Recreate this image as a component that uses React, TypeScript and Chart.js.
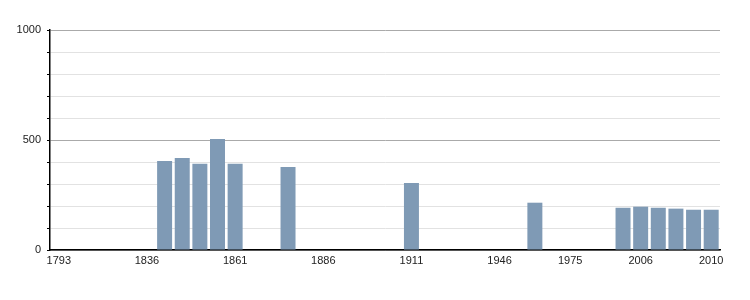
import React, { useEffect, useRef } from "react";
import { Chart, registerables } from "chart.js";

Chart.register(...registerables);

const years = [
  "1793", "1800", "1806", "1821", "1831", "1836", "1841", "1846", "1851", "1856",
  "1861", "1866", "1872", "1876", "1881", "1886", "1891", "1896", "1901", "1906",
  "1911", "1921", "1926", "1931", "1936", "1946", "1954", "1962", "1968", "1975",
  "1982", "1990", "1999", "2006", "2007", "2008", "2009", "2010",
];

const population: (number | null)[] = [
  null, null, null, null, null, null, 404, 418, 392, 505,
  392, null, null, 377, null, null, null, null, null, null,
  305, null, null, null, null, null, null, 215, null, null,
  null, null, 192, 197, 192, 188, 183, 183,
];

const shownYearLabels = ["1793", "1836", "1861", "1886", "1911", "1946", "1975", "2006", "2010"];
const yLabelValues = [0, 500, 1000];

export default function App() {
  const ref = useRef<HTMLCanvasElement | null>(null);
  useEffect(() => {
    if (!ref.current) return;
    const chart = new Chart(ref.current, {
      type: "bar",
      data: {
        labels: years,
        datasets: [
          {
            data: population,
            backgroundColor: "#7f9ab5",
            borderWidth: 0,
            categoryPercentage: 1,
            barPercentage: 0.85,
          },
        ],
      },
      options: {
        animation: false,
        responsive: false,
        maintainAspectRatio: false,
        layout: { padding: { top: 30, right: 30, bottom: 0, left: 0 } },
        plugins: { legend: { display: false }, tooltip: { enabled: false } },
        scales: {
          x: {
            type: "category",
            offset: true,
            grid: { display: false, drawTicks: false },
            border: { display: true, color: "#000", width: 1.5 },
            ticks: {
              autoSkip: false,
              maxRotation: 0,
              padding: 4,
              color: "#222",
              font: { family: "Liberation Sans, Arial, sans-serif", size: 11 },
              callback: (_v: any, i: number) =>
                shownYearLabels.includes(years[i]) ? years[i] : "",
            },
            afterFit: (s: any) => {
              s.height = 50;
            },
          },
          y: {
            min: 0,
            max: 1000,
            border: { display: true, color: "#000", width: 1.5 },
            grid: {
              color: (c: any) =>
                c.tick && c.tick.value % 500 === 0 ? "#aaaaaa" : "#e2e2e2",
              tickColor: "#000",
              tickLength: 3,
              drawTicks: true,
            },
            ticks: {
              stepSize: 100,
              autoSkip: false,
              padding: 6,
              color: "#222",
              font: { family: "Liberation Sans, Arial, sans-serif", size: 11 },
              callback: (v: any) => (yLabelValues.includes(Number(v)) ? String(v) : ""),
            },
            afterFit: (s: any) => {
              s.width = 50;
            },
          },
        },
      },
    });
    return () => chart.destroy();
  }, []);
  return (
    <div style={{ position: "absolute", left: 0, top: 0, width: 750, height: 300, background: "#fff" }}>
      <canvas ref={ref} width={750} height={300} style={{ width: 750, height: 300 }} />
    </div>
  );
}
